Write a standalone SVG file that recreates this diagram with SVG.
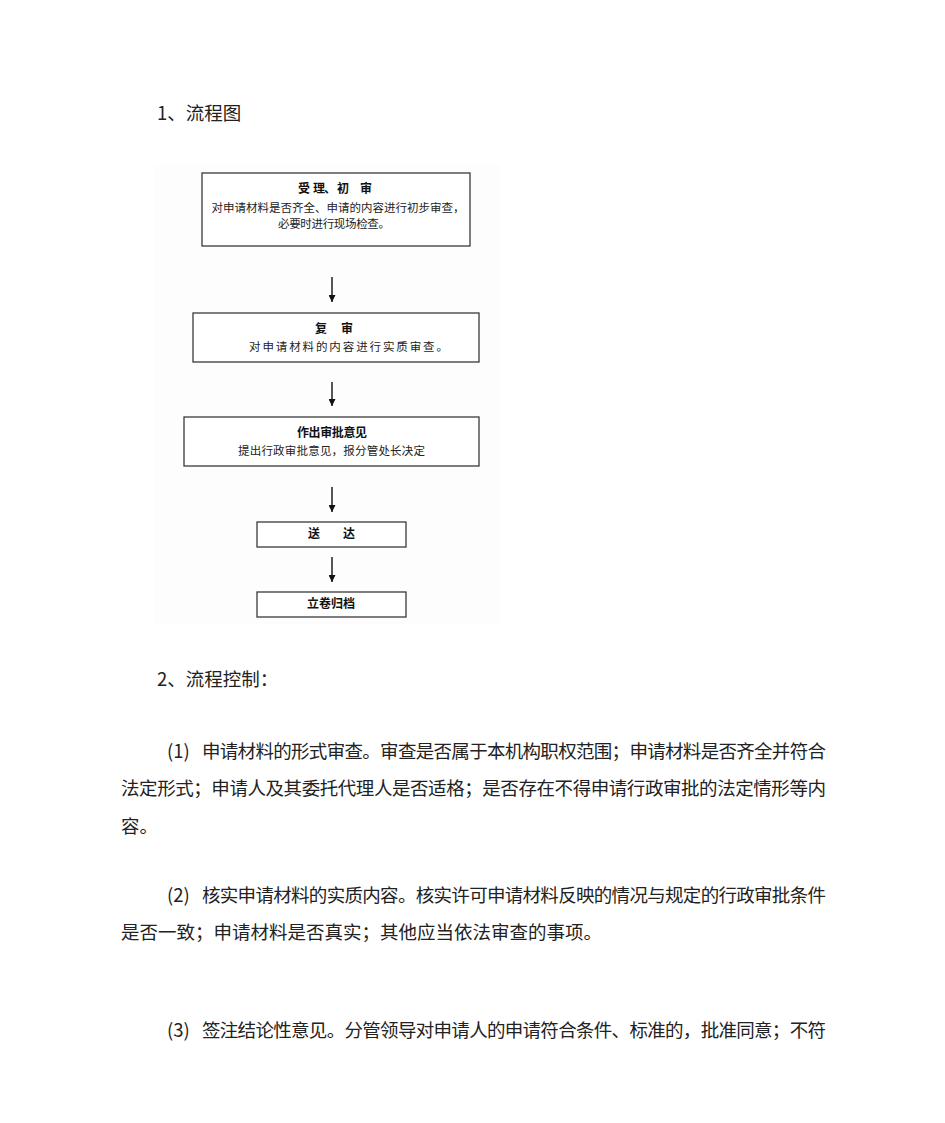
<svg xmlns="http://www.w3.org/2000/svg" width="945" height="1123" viewBox="0 0 945 1123">
<defs>
<style>
.bg{fill:#ffffff}
.pic{fill:#fdfdfd}
.box{fill:#ffffff;stroke:#3a3a3a;stroke-width:1.3}
.ft{font-family:"Noto Sans CJK SC","Liberation Sans",sans-serif;font-size:11.5px;fill:#222;text-anchor:middle}
.fb{font-family:"Noto Sans CJK SC","Liberation Sans",sans-serif;font-size:12px;font-weight:bold;fill:#111}
.fbm{text-anchor:middle}
.p{font-family:"Noto Sans CJK SC","Liberation Sans",sans-serif;font-size:18.5px;fill:#222}
.conn{stroke:#111;stroke-width:1.4;fill:none}
</style>
<marker id="ah" viewBox="0 0 10 10" refX="10" refY="5" markerWidth="7" markerHeight="7" markerUnits="userSpaceOnUse" orient="auto">
<path d="M0,0 L10,5 L0,10 z" fill="#111"/>
</marker>
</defs>
<rect class="bg" x="0" y="0" width="945" height="1123"/>
<text class="p" x="157" y="120">1、流程图</text>
<rect class="pic" x="155" y="165" width="345" height="460"/>
<g id="n1">
<rect class="box" x="202" y="173" width="268" height="73"/>
<text class="fb" y="193"><tspan x="298">受</tspan><tspan x="313">理</tspan><tspan x="324">、</tspan><tspan x="337">初</tspan><tspan x="360">审</tspan></text>
<text class="ft" x="338" y="212" textLength="253" lengthAdjust="spacing">对申请材料是否齐全、申请的内容进行初步审查，</text>
<text class="ft" x="334" y="228" textLength="112" lengthAdjust="spacing">必要时进行现场检查。</text>
</g>
<g id="n2">
<rect class="box" x="193" y="313" width="286" height="49"/>
<text class="fb" y="333"><tspan x="315">复</tspan><tspan x="341">审</tspan></text>
<text class="ft" x="348.5" y="350.5" textLength="199" lengthAdjust="spacing">对申请材料的内容进行实质审查。</text>
</g>
<g id="n3">
<rect class="box" x="184" y="417" width="295" height="49"/>
<text class="fb fbm" x="332" y="437" textLength="70" lengthAdjust="spacing">作出审批意见</text>
<text class="ft" x="331.5" y="455" textLength="187" lengthAdjust="spacing">提出行政审批意见，报分管处长决定</text>
</g>
<g id="n4">
<rect class="box" x="257" y="522" width="149" height="25"/>
<text class="fb" y="538"><tspan x="308">送</tspan><tspan x="343">达</tspan></text>
</g>
<g id="n5">
<rect class="box" x="257" y="592" width="149" height="25"/>
<text class="fb fbm" x="331" y="608" textLength="48" lengthAdjust="spacing">立卷归档</text>
</g>
<g id="connectors">
<line class="conn" x1="332" y1="277" x2="332" y2="302" marker-end="url(#ah)"/>
<line class="conn" x1="332" y1="382" x2="332" y2="406" marker-end="url(#ah)"/>
<line class="conn" x1="332" y1="487" x2="332" y2="512" marker-end="url(#ah)"/>
<line class="conn" x1="332" y1="557" x2="332" y2="582" marker-end="url(#ah)"/>
</g>
<text class="p" x="157" y="686">2、流程控制：</text>
<text class="p" x="167" y="758">(1)</text>
<text class="p" x="202" y="758" textLength="624" lengthAdjust="spacing">申请材料的形式审查。审查是否属于本机构职权范围；申请材料是否齐全并符合</text>
<text class="p" x="121" y="795" textLength="705" lengthAdjust="spacing">法定形式；申请人及其委托代理人是否适格；是否存在不得申请行政审批的法定情形等内</text>
<text class="p" x="121" y="833">容。</text>
<text class="p" x="167" y="902">(2)</text>
<text class="p" x="202" y="902" textLength="624" lengthAdjust="spacing">核实申请材料的实质内容。核实许可申请材料反映的情况与规定的行政审批条件</text>
<text class="p" x="121" y="939">是否一致；申请材料是否真实；其他应当依法审查的事项。</text>
<text class="p" x="167" y="1037">(3)</text>
<text class="p" x="202" y="1037" textLength="624" lengthAdjust="spacing">签注结论性意见。分管领导对申请人的申请符合条件、标准的，批准同意；不符</text>
</svg>
